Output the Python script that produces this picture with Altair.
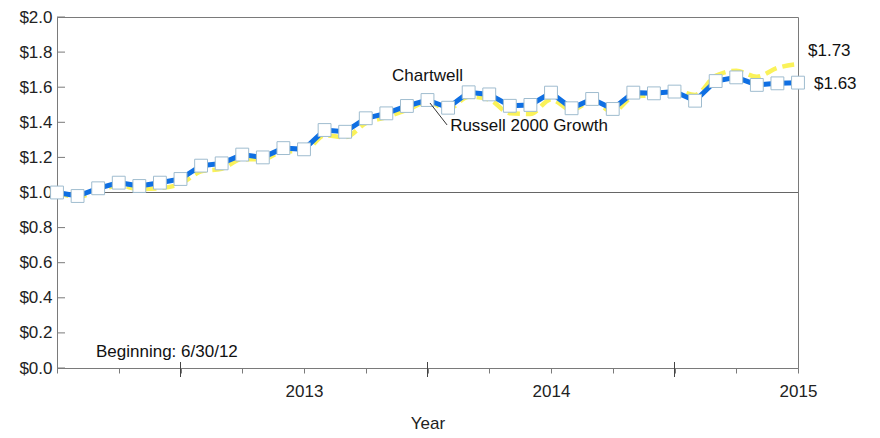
import altair as alt
import pandas as pd

# ---- data (growth of $1, monthly from 6/30/12 to 6/30/15) ----
month_index = list(range(37))
chartwell = [1.00, 0.98, 1.024, 1.056, 1.037, 1.056, 1.077, 1.153, 1.166, 1.216,
             1.200, 1.253, 1.246, 1.356, 1.346, 1.423, 1.451, 1.493, 1.527, 1.483,
             1.571, 1.559, 1.494, 1.499, 1.569, 1.480, 1.533, 1.476, 1.569, 1.565,
             1.575, 1.523, 1.635, 1.656, 1.613, 1.622, 1.626]
russell = [1.00, 0.975, 1.01, 1.04, 1.02, 1.025, 1.05, 1.12, 1.135, 1.19,
           1.19, 1.235, 1.235, 1.325, 1.315, 1.395, 1.43, 1.47, 1.515, 1.475,
           1.546, 1.53, 1.451, 1.447, 1.53, 1.47, 1.52, 1.46, 1.546, 1.556,
           1.584, 1.556, 1.665, 1.694, 1.66, 1.71, 1.732]
y_ticks = [0.0, 0.2, 0.4, 0.6, 0.8, 1.0, 1.2, 1.4, 1.6, 1.8, 2.0]
x_ticks = list(range(0, 37, 3))
year_ticks = [6, 18, 30]
year_labels = {12: "2013", 24: "2014", 36: "2015"}

W, H = 741, 351
BLUE = "#0F6FE3"
YELLOW = "#FAF25A"
GRAY = "#7a7a7a"
FONT = "Liberation Sans"
FS = 17

df = pd.DataFrame({"m": month_index, "chartwell": chartwell, "russell": russell})

xs = alt.Scale(domain=[0, 36], nice=False, zero=False)
ys = alt.Scale(domain=[0, 2], nice=False, zero=True)

label_expr = " : ".join(
    [f"datum.value == {k} ? '{v}'" for k, v in year_labels.items()]) + " : ''"

XAX = alt.Axis(
    values=x_ticks, labelExpr=label_expr, tickSize=5, tickColor=GRAY,
    domainColor=GRAY, labelPadding=10, labelFontSize=FS, labelColor="#222",
    labelFlush=False, grid=False, title="Year", titleFontSize=FS,
    titleFontWeight="normal", titleColor="#222", titlePadding=16)
YAX = alt.Axis(
    values=y_ticks, format="$.1f", ticks=False, labelPadding=5,
    labelFontSize=FS, labelColor="#222", domainColor=GRAY, grid=False,
    title=None)


def X(f):
    return alt.X(f, type="quantitative", scale=xs, axis=XAX)


def Y(f):
    return alt.Y(f, type="quantitative", scale=ys, axis=YAX)


base = alt.Chart(df)

russell_line = base.mark_line(
    color=YELLOW, strokeWidth=4.5, strokeDash=[12, 6], interpolate="monotone"
).encode(x=X("m"), y=Y("russell"))

chart_line = base.mark_line(color=BLUE, strokeWidth=5).encode(x=X("m"), y=Y("chartwell"))

markers = base.mark_point(
    shape="square", size=165, filled=True, fill="white", stroke="#9fbccf",
    strokeWidth=1, opacity=1
).encode(x=X("m"), y=Y("chartwell"))

one_line = alt.Chart(pd.DataFrame({"v": [1.0]})).mark_rule(
    color="#666", strokeWidth=1
).encode(y=Y("v"), x=alt.value(0), x2=alt.value(W))

ytick_marks = alt.Chart(pd.DataFrame({"v": y_ticks})).mark_rule(
    color=GRAY, strokeWidth=1
).encode(y=Y("v"), x=alt.value(0), x2=alt.value(8))

year_tick_marks = alt.Chart(pd.DataFrame({"m": year_ticks})).mark_rule(
    color="#444", strokeWidth=1
).encode(x=X("m"), y=alt.value(H - 6), y2=alt.value(H + 9))

labels = pd.DataFrame({
    "m": [16.28, 19.1],
    "v": [1.664, 1.379],
    "t": ["Chartwell", "Russell 2000 Growth"],
})
label_text = alt.Chart(labels).mark_text(
    align="left", baseline="middle", fontSize=FS, color="#111", font=FONT
).encode(x=X("m"), y=Y("v"), text="t:N")

leader = alt.Chart(pd.DataFrame({"m": [18.12], "v": [1.51], "m2": [18.95], "v2": [1.385]})).mark_rule(
    color="#333", strokeWidth=1
).encode(x=X("m"), y=Y("v"), x2="m2:Q", y2="v2:Q")

end_r = alt.Chart(pd.DataFrame({"m": [36], "v": [russell[-1]], "t": ["$1.73"]})).mark_text(
    align="left", baseline="middle", fontSize=FS, color="#111", font=FONT, dx=10, dy=-13
).encode(x=X("m"), y=Y("v"), text="t:N")

end_c = alt.Chart(pd.DataFrame({"m": [36], "v": [chartwell[-1]], "t": ["$1.63"]})).mark_text(
    align="left", baseline="middle", fontSize=FS, color="#111", font=FONT, dx=16, dy=1
).encode(x=X("m"), y=Y("v"), text="t:N")

begin = alt.Chart(pd.DataFrame({"t": ["Beginning: 6/30/12"]})).mark_text(
    align="left", baseline="middle", fontSize=FS, color="#111", font=FONT
).encode(x=alt.value(39), y=alt.value(335), text="t:N")

chart = alt.layer(
    russell_line, one_line, ytick_marks, year_tick_marks, chart_line, markers,
    leader, label_text, end_r, end_c, begin
).properties(
    width=W, height=H,
    autosize=alt.AutoSizeParams(type="none"),
    padding={"left": 49, "top": 9, "right": 70, "bottom": 64},
).configure(font=FONT).configure_view(stroke=GRAY, strokeWidth=1)

chart.save("out.html", embed_options={"renderer": "svg", "actions": False})
